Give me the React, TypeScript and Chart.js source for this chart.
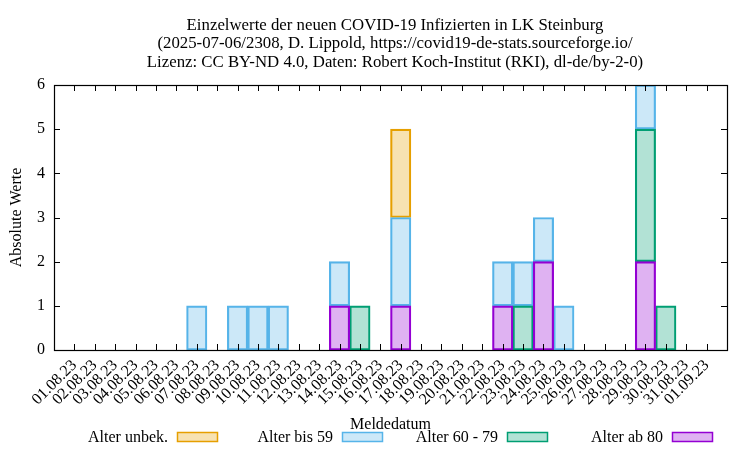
import React, { useEffect, useRef } from "react";
import { Chart, registerables } from "chart.js";
Chart.register(...registerables);

const dates = [
  "01.08.23","02.08.23","03.08.23","04.08.23","05.08.23","06.08.23","07.08.23","08.08.23",
  "09.08.23","10.08.23","11.08.23","12.08.23","13.08.23","14.08.23","15.08.23","16.08.23",
  "17.08.23","18.08.23","19.08.23","20.08.23","21.08.23","22.08.23","23.08.23","24.08.23",
  "25.08.23","26.08.23","27.08.23","28.08.23","29.08.23","30.08.23","31.08.23","01.09.23",
];
// values per date (01.08.23 ... 01.09.23)
const alterAb80 =    [0,0,0,0,0,0,0,0, 0,0,0,0,0,1,0,0, 1,0,0,0,0,1,0,2, 0,0,0,0,2,0,0,0];
const alter60bis79 = [0,0,0,0,0,0,0,0, 0,0,0,0,0,0,1,0, 0,0,0,0,0,0,1,0, 0,0,0,0,3,1,0,0];
const alterBis59 =   [0,0,0,0,0,0,1,0, 1,1,1,0,0,1,0,0, 2,0,0,0,0,1,1,1, 1,0,0,0,1,0,0,0];
const alterUnbek =   [0,0,0,0,0,0,0,0, 0,0,0,0,0,0,0,0, 2,0,0,0,0,0,0,0, 0,0,0,0,0,0,0,0];
const yMin = 0;
const yMax = 6;

const titleLines = [
  "Einzelwerte der neuen COVID-19 Infizierten in LK Steinburg",
  "(2025-07-06/2308, D. Lippold, https://covid19-de-stats.sourceforge.io/",
  "Lizenz: CC BY-ND 4.0, Daten: Robert Koch-Institut (RKI), dl-de/by-2-0)",
];
const xTitle = "Meldedatum";
const yTitle = "Absolute Werte";

const FONT = "'Liberation Serif', 'Times New Roman', serif";

const series = [
  { label: "Alter ab 80", data: alterAb80, color: "148,0,211" },
  { label: "Alter 60 - 79", data: alter60bis79, color: "0,158,115" },
  { label: "Alter bis 59", data: alterBis59, color: "86,180,233" },
  { label: "Alter unbek.", data: alterUnbek, color: "230,159,0" },
];
const legendOrder = ["Alter unbek.", "Alter bis 59", "Alter 60 - 79", "Alter ab 80"];

const labels = ["", ...dates, ""];
const pad = (arr: number[]) => [null, ...arr.map((v) => (v === 0 ? null : v)), null];

const decorPlugin = {
  id: "decor",
  afterDraw(chart: any) {
    const { ctx, chartArea } = chart;
    const { left, right, top, bottom } = chartArea;
    const xs = chart.scales.x;
    const ys = chart.scales.y;
    ctx.save();
    ctx.strokeStyle = "#000";
    ctx.lineWidth = 1;
    // ticks
    const tl = 6;
    ctx.beginPath();
    for (let i = 1; i <= dates.length; i++) {
      const px = Math.round(xs.getPixelForValue(i)) + 0.5;
      ctx.moveTo(px, bottom);
      ctx.lineTo(px, bottom - tl);
      ctx.moveTo(px, top);
      ctx.lineTo(px, top + tl);
    }
    for (let v = yMin + 1; v < yMax; v++) {
      const py = Math.round(ys.getPixelForValue(v)) + 0.5;
      ctx.moveTo(left, py);
      ctx.lineTo(left + tl, py);
      ctx.moveTo(right, py);
      ctx.lineTo(right - tl, py);
    }
    ctx.stroke();
    // frame
    ctx.lineWidth = 1.2;
    ctx.strokeRect(Math.round(left) + 0.5, Math.round(top) + 0.5, Math.round(right - left), Math.round(bottom - top));

    ctx.fillStyle = "#000";
    // title
    ctx.font = `16.8px ${FONT}`;
    ctx.textAlign = "center";
    ctx.textBaseline = "alphabetic";
    const cx = 395;
    titleLines.forEach((t, i) => ctx.fillText(t, cx, 30 + i * 18.3));
    ctx.font = `16px ${FONT}`;
    // x title
    ctx.fillText(xTitle, (left + right) / 2, 429);
    // y title
    ctx.save();
    ctx.translate(21, (top + bottom) / 2);
    ctx.rotate(-Math.PI / 2);
    ctx.fillText(yTitle, 0, 0);
    ctx.restore();
    // legend
    const colW = 165;
    const swX0 = 177;
    const swW = 40;
    const swY = 432;
    const swH = 9;
    legendOrder.forEach((name, i) => {
      const s = series.find((q) => q.label === name)!;
      const sx = swX0 + i * colW;
      ctx.textAlign = "right";
      ctx.fillStyle = "#000";
      ctx.fillText(name, sx - 9, 442);
      ctx.fillStyle = `rgba(${s.color},0.3)`;
      ctx.fillRect(sx, swY, swW, swH);
      ctx.strokeStyle = `rgb(${s.color})`;
      ctx.lineWidth = 1.5;
      ctx.strokeRect(sx + 0.5, swY + 0.5, swW, swH);
    });
    ctx.restore();
  },
};

export default function App() {
  const ref = useRef<HTMLCanvasElement>(null);
  useEffect(() => {
    if (!ref.current) return;
    const chart = new Chart(ref.current, {
      type: "bar",
      data: {
        labels,
        datasets: series.map((s) => ({
          label: s.label,
          data: pad(s.data),
          backgroundColor: `rgba(${s.color},0.3)`,
          borderColor: `rgb(${s.color})`,
          borderWidth: 1.5,
          borderSkipped: false,
          categoryPercentage: 1,
          barPercentage: 1,
        })),
      },
      options: {
        responsive: false,
        animation: false,
        devicePixelRatio: 1,
        layout: { padding: { top: 85, right: 23, left: 0, bottom: 0 } },
        plugins: { legend: { display: false }, title: { display: false }, tooltip: { enabled: false } },
        scales: {
          x: {
            type: "category",
            offset: false,
            stacked: true,
            grid: { display: false, drawTicks: false },
            border: { display: false },
            afterFit: (s: any) => { s.height = 100; },
            ticks: {
              autoSkip: false,
              maxRotation: 45,
              minRotation: 45,
              padding: 6,
              color: "#000",
              font: { family: FONT, size: 16 },
            },
          },
          y: {
            stacked: true,
            min: yMin,
            max: yMax,
            grid: { display: false, drawTicks: false },
            border: { display: false },
            afterFit: (s: any) => { s.width = 54; },
            ticks: {
              stepSize: 1,
              padding: 9,
              color: "#000",
              font: { family: FONT, size: 16 },
            },
          },
        },
      },
      plugins: [decorPlugin],
    });
    return () => chart.destroy();
  }, []);
  return (
    <div style={{ position: "absolute", left: 0, top: 0, width: 750, height: 450, background: "#fff" }}>
      <canvas ref={ref} width={750} height={450} style={{ width: 750, height: 450 }} />
    </div>
  );
}
